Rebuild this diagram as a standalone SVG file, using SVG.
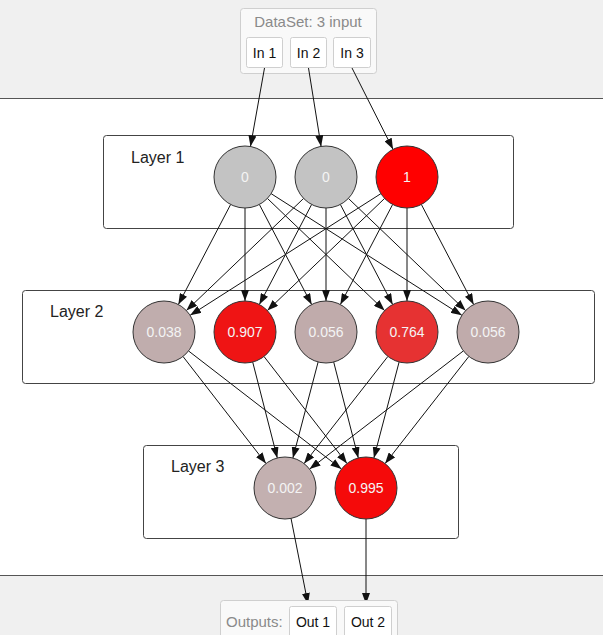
<svg xmlns="http://www.w3.org/2000/svg" width="603" height="635" viewBox="0 0 603 635">
<style>
.band{fill:#f0f0f0}
.sep{stroke:#555;stroke-width:1.2}
.grp{fill:#f9f9f9;stroke:#cfcfcf;stroke-width:1}
.io{fill:#fff;stroke:#cfcfcf;stroke-width:1}
.gl{font-family:"Liberation Sans",Arial,sans-serif;font-size:15px;fill:#8a8a8a}
.iol{font-family:"Liberation Sans",Arial,sans-serif;font-size:14px;fill:#111;text-anchor:middle}
.layer{fill:#fff;stroke:#444;stroke-width:1}
.ll{font-family:"Liberation Sans",Arial,sans-serif;font-size:16px;fill:#222}
.n{stroke:#333;stroke-width:1}
.nv{font-family:"Liberation Sans",Arial,sans-serif;font-size:14px;fill:#f4f4f4;text-anchor:middle}
.e{stroke:#111;stroke-width:1;fill:none;marker-end:url(#ah)}
</style>
<defs>
<marker id="ah" viewBox="0 0 11 8" refX="11" refY="4" markerWidth="11" markerHeight="8" markerUnits="userSpaceOnUse" orient="auto">
<path d="M0,0 L11,4 L0,8 Z" fill="#111"/>
</marker>
</defs>
<rect width="603" height="635" fill="#fff"/>
<rect class="band" x="0" y="0" width="603" height="98"/>
<line class="sep" x1="0" y1="98.5" x2="603" y2="98.5"/>
<rect class="band" x="0" y="575" width="603" height="60"/>
<line class="sep" x1="0" y1="575.5" x2="603" y2="575.5"/>

<g id="dataset">
<rect class="grp" x="240.5" y="8.5" width="136" height="65" rx="3"/>
<text class="gl" x="308" y="27" text-anchor="middle">DataSet: 3 input</text>
</g>
<g id="in1"><rect class="io" x="246.5" y="37.5" width="36" height="30" rx="2"/><text class="iol" x="264.5" y="57.5">In 1</text></g>
<g id="in2"><rect class="io" x="290.5" y="37.5" width="36" height="30" rx="2"/><text class="iol" x="308.5" y="57.5">In 2</text></g>
<g id="in3"><rect class="io" x="333.5" y="37.5" width="37" height="30" rx="2"/><text class="iol" x="352" y="57.5">In 3</text></g>

<g id="layer1"><rect class="layer" x="103.5" y="135.5" width="410" height="93" rx="3"/><text class="ll" x="131" y="163">Layer 1</text></g>
<g id="layer2"><rect class="layer" x="22.5" y="290.5" width="572" height="93" rx="3"/><text class="ll" x="50" y="317">Layer 2</text></g>
<g id="layer3"><rect class="layer" x="143.5" y="445.5" width="315" height="93" rx="3"/><text class="ll" x="171" y="472">Layer 3</text></g>

<g id="edges">
<line class="e" x1="264.5" y1="68" x2="250.46" y2="146.48"/>
<line class="e" x1="308.5" y1="68" x2="321.09" y2="146.39"/>
<line class="e" x1="352" y1="68" x2="393.03" y2="149.32"/>

<line class="e" x1="230.64" y1="204.47" x2="178.36" y2="304.53"/>
<line class="e" x1="245" y1="208" x2="245" y2="301"/>
<line class="e" x1="259.36" y1="204.47" x2="311.64" y2="304.53"/>
<line class="e" x1="267.40" y1="198.43" x2="384.60" y2="310.57"/>
<line class="e" x1="271.14" y1="193.67" x2="461.86" y2="315.33"/>
<line class="e" x1="303.60" y1="198.43" x2="186.40" y2="310.57"/>
<line class="e" x1="311.64" y1="204.47" x2="259.36" y2="304.53"/>
<line class="e" x1="326" y1="208" x2="326" y2="301"/>
<line class="e" x1="340.36" y1="204.47" x2="392.64" y2="304.53"/>
<line class="e" x1="348.40" y1="198.43" x2="465.60" y2="310.57"/>
<line class="e" x1="380.86" y1="193.67" x2="190.14" y2="315.33"/>
<line class="e" x1="384.60" y1="198.43" x2="267.40" y2="310.57"/>
<line class="e" x1="392.64" y1="204.47" x2="340.36" y2="304.53"/>
<line class="e" x1="407" y1="208" x2="407" y2="301"/>
<line class="e" x1="421.36" y1="204.47" x2="473.64" y2="304.53"/>

<line class="e" x1="183.0" y1="356.49" x2="266.0" y2="463.51"/>
<line class="e" x1="252.70" y1="362.03" x2="277.30" y2="457.97"/>
<line class="e" x1="318.12" y1="361.98" x2="292.88" y2="458.02"/>
<line class="e" x1="387.90" y1="356.42" x2="304.10" y2="463.58"/>
<line class="e" x1="463.42" y1="350.89" x2="309.58" y2="469.11"/>
<line class="e" x1="188.53" y1="350.95" x2="341.47" y2="469.05"/>
<line class="e" x1="264.0" y1="356.49" x2="347.0" y2="463.51"/>
<line class="e" x1="333.70" y1="362.03" x2="358.30" y2="457.97"/>
<line class="e" x1="399.12" y1="361.98" x2="373.88" y2="458.02"/>
<line class="e" x1="468.90" y1="356.42" x2="385.10" y2="463.58"/>

<line class="e" x1="291.03" y1="518.41" x2="308" y2="604"/>
<line class="e" x1="366" y1="519" x2="366" y2="604"/>
</g>

<g id="n1_1"><circle class="n" cx="245" cy="177" r="31" fill="#c3c3c3"/><text class="nv" x="245" y="182">0</text></g>
<g id="n1_2"><circle class="n" cx="326" cy="177" r="31" fill="#c3c3c3"/><text class="nv" x="326" y="182">0</text></g>
<g id="n1_3"><circle class="n" cx="407" cy="177" r="31" fill="#ff0000"/><text class="nv" x="407" y="182">1</text></g>

<g id="n2_1"><circle class="n" cx="164" cy="332" r="31" fill="#c0adad"/><text class="nv" x="164" y="337">0.038</text></g>
<g id="n2_2"><circle class="n" cx="245" cy="332" r="31" fill="#ef1414"/><text class="nv" x="245" y="337">0.907</text></g>
<g id="n2_3"><circle class="n" cx="326" cy="332" r="31" fill="#c0abab"/><text class="nv" x="326" y="337">0.056</text></g>
<g id="n2_4"><circle class="n" cx="407" cy="332" r="31" fill="#e63232"/><text class="nv" x="407" y="337">0.764</text></g>
<g id="n2_5"><circle class="n" cx="488" cy="332" r="31" fill="#c0abab"/><text class="nv" x="488" y="337">0.056</text></g>

<g id="n3_1"><circle class="n" cx="285" cy="488" r="31" fill="#c3b0b0"/><text class="nv" x="285" y="493">0.002</text></g>
<g id="n3_2"><circle class="n" cx="366" cy="488" r="31" fill="#f50a0a"/><text class="nv" x="366" y="493">0.995</text></g>

<g id="outputs">
<rect class="grp" x="220.5" y="600.5" width="177" height="45" rx="3"/>
<text class="gl" x="226" y="627">Outputs:</text>
</g>
<g id="out1"><rect class="io" x="289.5" y="606.5" width="47" height="35" rx="2"/><text class="iol" x="313" y="627">Out 1</text></g>
<g id="out2"><rect class="io" x="344.5" y="606.5" width="47" height="35" rx="2"/><text class="iol" x="368" y="627">Out 2</text></g>
</svg>
